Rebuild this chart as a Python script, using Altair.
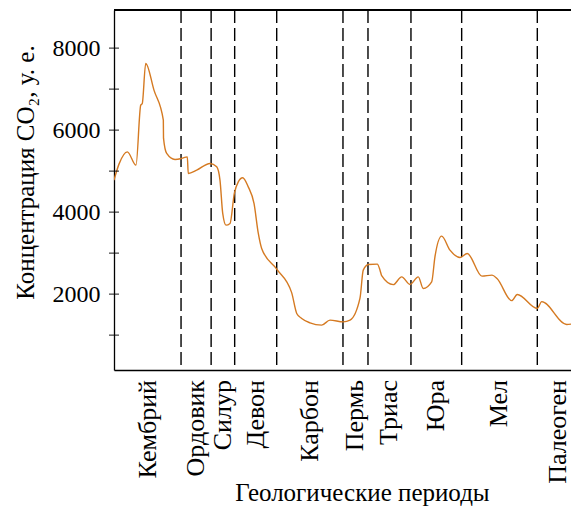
import altair as alt
import pandas as pd

# Curve (time position on the chart's own scale, pseudo-Ma from 541 to 0; CO2 in relative units)
age = [541, 535.2, 525.5, 515.4, 509.9, 508.1, 504.1, 494.5, 483.6, 483.4, 479.7, 470, 462.2,
       455.7, 454.6, 444.8, 429.3, 421.5, 417.7, 414.5, 410.7, 406.0, 401.0, 396.4, 391.3,
       384.8, 378.1, 373.1, 369.2, 351.7, 334.3, 328.4, 322.6, 313, 299.4, 289.7, 274.2,
       266.4, 254.8, 251, 245.1, 234.7, 231.5, 229.6, 216.1, 206.3, 196.6, 187, 181.2,
       171.4, 167.6, 159.8, 150.1, 138.5, 130, 112.9, 101.2, 95.4, 78.3, 71.8, 48.5,
       43.4, 14.3, 0]
co2 = [4780, 5171, 5471, 5146, 6610, 6651, 7627, 6976, 6244, 5805, 5432, 5285, 5310,
       5349, 4944, 5024, 5188, 5105, 4780, 3968, 3683, 3724, 4456, 4739, 4837,
       4617, 4212, 3480, 3115, 2610, 2037, 1529, 1407, 1300, 1244, 1366, 1324,
       1366, 1902, 2585, 2724, 2732, 2585, 2451, 2232, 2422, 2237, 2422, 2139,
       2300, 2910, 3415, 3073, 2895, 2993, 2439, 2463, 2383, 1841, 1993, 1651,
       1817, 1261, 1300]

# Period boundaries (same scale) and names
boundaries = [463, 428, 400.6, 351.7, 274.6, 245.5, 195.5, 136.5, 48.5]
period_names = ["Кембрий", "Ордовик", "Силур", "Девон", "Карбон", "Пермь",
                "Триас", "Юра", "Мел", "Палеоген"]
edges = [541] + boundaries + [0]
period_mid = [(edges[i] + edges[i + 1]) / 2 for i in range(len(period_names))]

y_ticks = [1000, 2000, 3000, 4000, 5000, 6000, 7000, 8000]
y_labels = [2000, 4000, 6000, 8000]

FONT = "Liberation Serif"
W, H = 457, 360
X_END = 9.3  # visible right end of the time axis (chart is cut at the right)

curve_df = pd.DataFrame({"age": age, "co2": co2})
bound_df = pd.DataFrame({"age": boundaries})
label_df = pd.DataFrame({"age": period_mid, "name": period_names})
tick_df = pd.DataFrame({"v": y_ticks})

xscale = alt.Scale(domain=[541, X_END], nice=False, zero=False)
yscale = alt.Scale(domain=[150, 8930], nice=False, zero=False)

line = alt.Chart(curve_df).mark_line(
    interpolate="monotone", color="#d57a22", strokeWidth=1.4, clip=True
).encode(
    x=alt.X("age:Q", scale=xscale,
            axis=alt.Axis(title="Геологические периоды", labels=False, ticks=False,
                          grid=False, domainColor="black", domainWidth=1.3,
                          titleFont=FONT, titleFontSize=25, titleFontWeight="normal",
                          titleColor="black", titleX=248, titleY=130,
                          titleBaseline="alphabetic", titleAlign="center")),
    y=alt.Y("co2:Q", scale=yscale,
            axis=alt.Axis(title="Концентрация CO₂, у. е.", values=y_labels, format="d",
                          ticks=False, grid=False, domainColor="black", domainWidth=1.3,
                          labelFont=FONT, labelFontSize=24, labelColor="black",
                          labelPadding=14,
                          titleFont=FONT, titleFontSize=25, titleFontWeight="normal",
                          titleColor="black", titleAngle=270, titleX=-89, titleY=162,
                          titleBaseline="middle", titleAlign="center")),
)

rules = alt.Chart(bound_df).mark_rule(
    color="black", strokeWidth=1.4, strokeDash=[13, 5]
).encode(x=alt.X("age:Q", scale=xscale))

top_border = alt.Chart(bound_df).mark_rule(color="black", strokeWidth=1.3).encode(
    x=alt.value(0), x2=alt.value(W), y=alt.value(0)
)

ticks = alt.Chart(tick_df).mark_tick(
    color="black", size=10, thickness=1.3, orient="horizontal"
).encode(y=alt.Y("v:Q", scale=yscale), x=alt.value(0))

labels = alt.Chart(label_df).mark_text(
    angle=270, align="right", baseline="middle", font=FONT, fontSize=26, color="black"
).encode(x=alt.X("age:Q", scale=xscale), y=alt.value(H + 10), text="name:N")

chart = alt.layer(rules, top_border, line, ticks, labels).properties(
    width=W, height=H,
    autosize=alt.AutoSizeParams(type="none"),
    padding={"left": 106, "top": 2, "right": 0, "bottom": 137},
).configure_view(stroke=None)

chart.save("out.html", embed_options={"renderer": "svg", "actions": False})
